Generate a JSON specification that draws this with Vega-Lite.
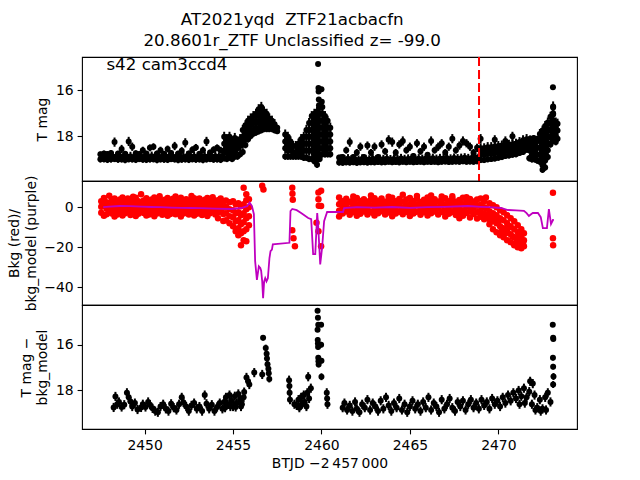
{
"$schema":"https://vega.github.io/schema/vega-lite/v6.json",
"background":"white",
"padding":{"left":6,"top":12,"right":5,"bottom":5},
"title":{"text":["AT2021yqd\u00a0 ZTF21acbacfn","20.8601r_ZTF Unclassified z= -99.0"],"font":"DejaVu Sans","fontSize":16.7,"fontWeight":"normal","color":"black","anchor":"middle","lineHeight":20.4,"offset":6},
"datasets":{
"lc":[
{"t":2447.5,"m":18.78,"e":0.12},{"t":2447.5,"m":19.0,"e":0.14},
{"t":2447.7,"m":18.74,"e":0.12},{"t":2447.7,"m":18.99,"e":0.14},
{"t":2447.9,"m":18.77,"e":0.12},{"t":2447.9,"m":19.02,"e":0.14},
{"t":2448.1,"m":18.72,"e":0.12},{"t":2448.1,"m":19.0,"e":0.14},
{"t":2448.3,"m":18.25,"e":0.2},{"t":2448.3,"m":18.98,"e":0.14},
{"t":2448.5,"m":18.75,"e":0.12},{"t":2448.5,"m":19.01,"e":0.14},
{"t":2448.7,"m":18.55,"e":0.18},{"t":2448.7,"m":19.0,"e":0.14},
{"t":2448.9,"m":18.76,"e":0.12},{"t":2448.9,"m":19.03,"e":0.14},
{"t":2449.1,"m":18.22,"e":0.2},{"t":2449.1,"m":18.99,"e":0.14},
{"t":2449.3,"m":18.45,"e":0.18},{"t":2449.3,"m":19.0,"e":0.14},
{"t":2449.5,"m":18.73,"e":0.12},{"t":2449.5,"m":19.02,"e":0.14},
{"t":2449.7,"m":18.77,"e":0.12},{"t":2449.7,"m":18.98,"e":0.14},
{"t":2449.9,"m":18.6,"e":0.15},{"t":2449.9,"m":19.01,"e":0.14},
{"t":2450.1,"m":18.75,"e":0.12},{"t":2450.1,"m":19.02,"e":0.14},
{"t":2450.3,"m":18.5,"e":0.15},{"t":2450.3,"m":19.0,"e":0.14},
{"t":2450.5,"m":18.45,"e":0.15},{"t":2450.5,"m":18.99,"e":0.14},
{"t":2450.7,"m":18.74,"e":0.12},{"t":2450.7,"m":19.03,"e":0.14},
{"t":2450.9,"m":18.6,"e":0.15},{"t":2450.9,"m":19.0,"e":0.14},
{"t":2451.1,"m":18.76,"e":0.12},{"t":2451.1,"m":19.01,"e":0.14},
{"t":2451.3,"m":18.55,"e":0.15},{"t":2451.3,"m":19.02,"e":0.14},
{"t":2451.5,"m":18.72,"e":0.12},{"t":2451.5,"m":18.98,"e":0.14},
{"t":2451.7,"m":18.42,"e":0.18},{"t":2451.7,"m":19.0,"e":0.14},
{"t":2451.9,"m":18.75,"e":0.12},{"t":2451.9,"m":19.03,"e":0.14},
{"t":2452.1,"m":18.62,"e":0.15},{"t":2452.1,"m":19.01,"e":0.14},
{"t":2452.3,"m":18.28,"e":0.2},{"t":2452.3,"m":19.0,"e":0.14},
{"t":2452.5,"m":18.74,"e":0.12},{"t":2452.5,"m":19.02,"e":0.14},
{"t":2452.7,"m":18.58,"e":0.15},{"t":2452.7,"m":18.99,"e":0.14},
{"t":2452.9,"m":18.48,"e":0.15},{"t":2452.9,"m":19.01,"e":0.14},
{"t":2453.1,"m":18.76,"e":0.12},{"t":2453.1,"m":19.0,"e":0.14},
{"t":2453.3,"m":18.6,"e":0.15},{"t":2453.3,"m":19.03,"e":0.14},
{"t":2453.5,"m":18.22,"e":0.2},{"t":2453.5,"m":19.0,"e":0.14},
{"t":2453.7,"m":18.7,"e":0.12},{"t":2453.7,"m":18.98,"e":0.14},
{"t":2453.9,"m":18.58,"e":0.15},{"t":2453.9,"m":19.01,"e":0.14},
{"t":2454.1,"m":18.5,"e":0.15},{"t":2454.1,"m":19.0,"e":0.14},
{"t":2454.3,"m":18.6,"e":0.15},{"t":2454.3,"m":19.02,"e":0.14},
{"t":2447.6,"m":18.88,"e":0.2},{"t":2447.8,"m":18.86,"e":0.2},{"t":2448.0,"m":18.9,"e":0.2},{"t":2448.2,"m":18.87,"e":0.2},{"t":2448.4,"m":18.89,"e":0.2},{"t":2448.6,"m":18.86,"e":0.2},{"t":2448.8,"m":18.9,"e":0.2},{"t":2449.0,"m":18.88,"e":0.2},{"t":2449.2,"m":18.87,"e":0.2},{"t":2449.4,"m":18.9,"e":0.2},{"t":2449.6,"m":18.86,"e":0.2},{"t":2449.8,"m":18.89,"e":0.2},{"t":2450.0,"m":18.88,"e":0.2},{"t":2450.2,"m":18.9,"e":0.2},{"t":2450.4,"m":18.86,"e":0.2},{"t":2450.6,"m":18.88,"e":0.2},{"t":2450.8,"m":18.9,"e":0.2},{"t":2451.0,"m":18.87,"e":0.2},{"t":2451.2,"m":18.89,"e":0.2},{"t":2451.4,"m":18.86,"e":0.2},{"t":2451.6,"m":18.9,"e":0.2},{"t":2451.8,"m":18.88,"e":0.2},{"t":2452.0,"m":18.87,"e":0.2},{"t":2452.2,"m":18.9,"e":0.2},{"t":2452.4,"m":18.86,"e":0.2},{"t":2452.6,"m":18.89,"e":0.2},{"t":2452.8,"m":18.88,"e":0.2},{"t":2453.0,"m":18.9,"e":0.2},{"t":2453.2,"m":18.86,"e":0.2},{"t":2453.4,"m":18.88,"e":0.2},{"t":2453.6,"m":18.87,"e":0.2},{"t":2453.8,"m":18.9,"e":0.2},{"t":2454.0,"m":18.86,"e":0.2},{"t":2454.2,"m":18.89,"e":0.2},{"t":2454.4,"m":18.85,"e":0.2},
{"t":2454.5,"m":18.02,"e":0.22},{"t":2454.5,"m":18.32,"e":0.22},{"t":2454.5,"m":18.62,"e":0.22},{"t":2454.5,"m":18.95,"e":0.14},
{"t":2454.65,"m":18.12,"e":0.22},{"t":2454.65,"m":18.42,"e":0.22},{"t":2454.65,"m":18.72,"e":0.22},{"t":2454.65,"m":18.98,"e":0.14},
{"t":2454.8,"m":18.02,"e":0.22},{"t":2454.8,"m":18.32,"e":0.22},{"t":2454.8,"m":18.62,"e":0.22},{"t":2454.8,"m":18.92,"e":0.14},
{"t":2454.95,"m":18.22,"e":0.22},{"t":2454.95,"m":18.52,"e":0.22},{"t":2454.95,"m":18.82,"e":0.22},{"t":2454.95,"m":18.98,"e":0.14},
{"t":2455.1,"m":18.07,"e":0.22},{"t":2455.1,"m":18.37,"e":0.22},{"t":2455.1,"m":18.67,"e":0.22},{"t":2455.1,"m":18.88,"e":0.14},
{"t":2455.25,"m":18.22,"e":0.22},{"t":2455.25,"m":18.52,"e":0.22},{"t":2455.25,"m":18.88,"e":0.14},
{"t":2455.4,"m":18.12,"e":0.22},{"t":2455.4,"m":18.42,"e":0.22},{"t":2455.4,"m":18.78,"e":0.14},
{"t":2455.55,"m":17.72,"e":0.22},{"t":2455.55,"m":18.02,"e":0.22},{"t":2455.55,"m":18.32,"e":0.22},{"t":2455.55,"m":18.68,"e":0.14},
{"t":2455.7,"m":17.52,"e":0.22},{"t":2455.7,"m":17.82,"e":0.22},{"t":2455.7,"m":18.12,"e":0.22},{"t":2455.7,"m":18.38,"e":0.14},
{"t":2455.85,"m":17.32,"e":0.22},{"t":2455.85,"m":17.62,"e":0.22},{"t":2455.85,"m":17.92,"e":0.22},{"t":2455.85,"m":18.13,"e":0.14},
{"t":2456.0,"m":17.22,"e":0.22},{"t":2456.0,"m":17.52,"e":0.22},{"t":2456.0,"m":17.82,"e":0.22},{"t":2456.0,"m":17.98,"e":0.14},
{"t":2456.15,"m":17.12,"e":0.22},{"t":2456.15,"m":17.42,"e":0.22},{"t":2456.15,"m":17.72,"e":0.22},{"t":2456.15,"m":17.88,"e":0.14},
{"t":2456.3,"m":17.02,"e":0.22},{"t":2456.3,"m":17.32,"e":0.22},{"t":2456.3,"m":17.62,"e":0.22},{"t":2456.3,"m":17.83,"e":0.14},
{"t":2456.45,"m":16.82,"e":0.22},{"t":2456.45,"m":17.12,"e":0.22},{"t":2456.45,"m":17.42,"e":0.22},{"t":2456.45,"m":17.78,"e":0.14},
{"t":2456.6,"m":16.72,"e":0.22},{"t":2456.6,"m":17.02,"e":0.22},{"t":2456.6,"m":17.32,"e":0.22},{"t":2456.6,"m":17.55,"e":0.22},{"t":2456.6,"m":17.73,"e":0.14},
{"t":2456.75,"m":16.92,"e":0.22},{"t":2456.75,"m":17.22,"e":0.22},{"t":2456.75,"m":17.52,"e":0.22},{"t":2456.75,"m":17.68,"e":0.14},
{"t":2456.9,"m":17.02,"e":0.22},{"t":2456.9,"m":17.32,"e":0.22},{"t":2456.9,"m":17.68,"e":0.14},
{"t":2457.05,"m":17.22,"e":0.22},{"t":2457.05,"m":17.5,"e":0.22},{"t":2457.05,"m":17.68,"e":0.14},
{"t":2457.2,"m":17.32,"e":0.22},{"t":2457.2,"m":17.68,"e":0.14},
{"t":2457.35,"m":17.47,"e":0.22},{"t":2457.35,"m":17.73,"e":0.14},
{"t":2457.5,"m":17.62,"e":0.12},{"t":2457.5,"m":17.78,"e":0.12},
{"t":2457.95,"m":17.92,"e":0.22},{"t":2457.95,"m":18.22,"e":0.22},{"t":2457.95,"m":18.52,"e":0.22},{"t":2457.95,"m":18.88,"e":0.14},
{"t":2458.1,"m":18.02,"e":0.22},{"t":2458.1,"m":18.32,"e":0.22},{"t":2458.1,"m":18.62,"e":0.22},{"t":2458.1,"m":18.88,"e":0.14},
{"t":2458.25,"m":18.22,"e":0.22},{"t":2458.25,"m":18.52,"e":0.22},{"t":2458.25,"m":18.88,"e":0.14},
{"t":2458.4,"m":18.42,"e":0.22},{"t":2458.4,"m":18.7,"e":0.22},{"t":2458.4,"m":18.88,"e":0.14},
{"t":2458.55,"m":18.42,"e":0.22},{"t":2458.55,"m":18.68,"e":0.22},{"t":2458.55,"m":18.88,"e":0.14},
{"t":2458.7,"m":18.32,"e":0.22},{"t":2458.7,"m":18.6,"e":0.22},{"t":2458.7,"m":18.88,"e":0.14},
{"t":2458.85,"m":18.12,"e":0.22},{"t":2458.85,"m":18.42,"e":0.22},{"t":2458.85,"m":18.72,"e":0.22},{"t":2458.85,"m":18.88,"e":0.14},
{"t":2459.0,"m":18.02,"e":0.22},{"t":2459.0,"m":18.32,"e":0.22},{"t":2459.0,"m":18.62,"e":0.22},{"t":2459.0,"m":18.93,"e":0.14},
{"t":2459.15,"m":17.72,"e":0.22},{"t":2459.15,"m":18.02,"e":0.22},{"t":2459.15,"m":18.32,"e":0.22},{"t":2459.15,"m":18.62,"e":0.22},{"t":2459.15,"m":18.93,"e":0.14},
{"t":2459.3,"m":17.42,"e":0.22},{"t":2459.3,"m":17.72,"e":0.22},{"t":2459.3,"m":18.02,"e":0.22},{"t":2459.3,"m":18.32,"e":0.22},{"t":2459.3,"m":18.62,"e":0.22},{"t":2459.3,"m":18.98,"e":0.14},
{"t":2459.45,"m":17.12,"e":0.22},{"t":2459.45,"m":17.42,"e":0.22},{"t":2459.45,"m":17.72,"e":0.22},{"t":2459.45,"m":18.02,"e":0.22},{"t":2459.45,"m":18.32,"e":0.22},{"t":2459.45,"m":18.62,"e":0.22},{"t":2459.45,"m":18.98,"e":0.14},
{"t":2459.6,"m":17.02,"e":0.22},{"t":2459.6,"m":17.32,"e":0.22},{"t":2459.6,"m":17.62,"e":0.22},{"t":2459.6,"m":17.92,"e":0.22},{"t":2459.6,"m":18.22,"e":0.22},{"t":2459.6,"m":18.52,"e":0.22},{"t":2459.6,"m":18.82,"e":0.22},{"t":2459.6,"m":19.08,"e":0.14},
{"t":2459.75,"m":16.92,"e":0.22},{"t":2459.75,"m":17.22,"e":0.22},{"t":2459.75,"m":17.52,"e":0.22},{"t":2459.75,"m":17.82,"e":0.22},{"t":2459.75,"m":18.12,"e":0.22},{"t":2459.75,"m":18.42,"e":0.22},{"t":2459.75,"m":18.72,"e":0.22},{"t":2459.75,"m":19.02,"e":0.22},{"t":2459.75,"m":19.23,"e":0.14},
{"t":2459.9,"m":16.72,"e":0.22},{"t":2459.9,"m":17.02,"e":0.22},{"t":2459.9,"m":17.32,"e":0.22},{"t":2459.9,"m":17.62,"e":0.22},{"t":2459.9,"m":17.92,"e":0.22},{"t":2459.9,"m":18.22,"e":0.22},{"t":2459.9,"m":18.52,"e":0.22},{"t":2459.9,"m":18.82,"e":0.22},{"t":2459.9,"m":18.98,"e":0.14},
{"t":2460.05,"m":16.72,"e":0.22},{"t":2460.05,"m":17.02,"e":0.22},{"t":2460.05,"m":17.32,"e":0.22},{"t":2460.05,"m":17.62,"e":0.22},{"t":2460.05,"m":17.92,"e":0.22},{"t":2460.05,"m":18.22,"e":0.22},{"t":2460.05,"m":18.52,"e":0.22},{"t":2460.05,"m":18.78,"e":0.14},
{"t":2460.2,"m":17.12,"e":0.22},{"t":2460.2,"m":17.42,"e":0.22},{"t":2460.2,"m":17.72,"e":0.22},{"t":2460.2,"m":18.02,"e":0.22},{"t":2460.2,"m":18.32,"e":0.22},{"t":2460.2,"m":18.62,"e":0.22},{"t":2460.2,"m":18.78,"e":0.14},
{"t":2460.35,"m":17.32,"e":0.22},{"t":2460.35,"m":17.62,"e":0.22},{"t":2460.35,"m":17.92,"e":0.22},{"t":2460.35,"m":18.22,"e":0.22},{"t":2460.35,"m":18.52,"e":0.22},{"t":2460.35,"m":18.78,"e":0.14},
{"t":2460.5,"m":17.62,"e":0.22},{"t":2460.5,"m":17.92,"e":0.22},{"t":2460.5,"m":18.22,"e":0.22},{"t":2460.5,"m":18.52,"e":0.22},{"t":2460.5,"m":18.78,"e":0.14},
{"t":2459.81,"m":14.85,"e":0.05},{"t":2459.83,"m":15.9,"e":0.07},{"t":2459.84,"m":16.05,"e":0.08},{"t":2459.85,"m":16.4,"e":0.1},{"t":2459.86,"m":16.65,"e":0.1},{"t":2460.0,"m":15.95,"e":0.1},{"t":2460.02,"m":16.5,"e":0.12},
{"t":2461.0,"m":18.92,"e":0.12},{"t":2461.0,"m":19.14,"e":0.13},
{"t":2461.2,"m":18.9,"e":0.12},{"t":2461.2,"m":19.15,"e":0.13},
{"t":2461.4,"m":18.6,"e":0.15},{"t":2461.4,"m":19.13,"e":0.13},
{"t":2461.6,"m":18.25,"e":0.2},{"t":2461.6,"m":19.14,"e":0.13},
{"t":2461.8,"m":18.9,"e":0.12},{"t":2461.8,"m":19.12,"e":0.13},
{"t":2462.0,"m":18.7,"e":0.15},{"t":2462.0,"m":19.15,"e":0.13},
{"t":2462.2,"m":18.45,"e":0.18},{"t":2462.2,"m":19.13,"e":0.13},
{"t":2462.4,"m":18.9,"e":0.12},{"t":2462.4,"m":19.12,"e":0.13},
{"t":2462.6,"m":18.4,"e":0.18},{"t":2462.6,"m":19.14,"e":0.13},
{"t":2462.8,"m":18.7,"e":0.15},{"t":2462.8,"m":19.12,"e":0.13},
{"t":2463.0,"m":18.45,"e":0.18},{"t":2463.0,"m":19.13,"e":0.13},
{"t":2463.2,"m":18.9,"e":0.12},{"t":2463.2,"m":19.11,"e":0.13},
{"t":2463.4,"m":18.35,"e":0.18},{"t":2463.4,"m":19.13,"e":0.13},
{"t":2463.6,"m":18.65,"e":0.15},{"t":2463.6,"m":19.12,"e":0.13},
{"t":2463.8,"m":18.15,"e":0.2},{"t":2463.8,"m":19.1,"e":0.13},
{"t":2464.0,"m":18.25,"e":0.2},{"t":2464.0,"m":19.12,"e":0.13},
{"t":2464.2,"m":18.7,"e":0.15},{"t":2464.2,"m":19.11,"e":0.13},
{"t":2464.4,"m":18.35,"e":0.18},{"t":2464.4,"m":19.13,"e":0.13},
{"t":2464.6,"m":18.2,"e":0.2},{"t":2464.6,"m":19.1,"e":0.13},
{"t":2464.8,"m":18.6,"e":0.15},{"t":2464.8,"m":19.12,"e":0.13},
{"t":2465.0,"m":18.45,"e":0.18},{"t":2465.0,"m":19.1,"e":0.13},
{"t":2465.2,"m":18.85,"e":0.12},{"t":2465.2,"m":19.12,"e":0.13},
{"t":2465.4,"m":18.3,"e":0.18},{"t":2465.4,"m":19.11,"e":0.13},
{"t":2465.6,"m":18.65,"e":0.15},{"t":2465.6,"m":19.1,"e":0.13},
{"t":2465.8,"m":18.45,"e":0.18},{"t":2465.8,"m":19.12,"e":0.13},
{"t":2466.0,"m":18.8,"e":0.12},{"t":2466.0,"m":19.1,"e":0.13},
{"t":2466.2,"m":18.2,"e":0.2},{"t":2466.2,"m":19.11,"e":0.13},
{"t":2466.4,"m":18.6,"e":0.15},{"t":2466.4,"m":19.1,"e":0.13},
{"t":2466.6,"m":18.45,"e":0.18},{"t":2466.6,"m":19.12,"e":0.13},
{"t":2466.8,"m":18.3,"e":0.18},{"t":2466.8,"m":19.1,"e":0.13},
{"t":2467.0,"m":18.7,"e":0.15},{"t":2467.0,"m":19.09,"e":0.13},
{"t":2467.2,"m":18.45,"e":0.18},{"t":2467.2,"m":19.11,"e":0.13},
{"t":2467.4,"m":18.1,"e":0.2},{"t":2467.4,"m":19.1,"e":0.13},
{"t":2467.6,"m":18.6,"e":0.15},{"t":2467.6,"m":19.09,"e":0.13},
{"t":2467.8,"m":18.4,"e":0.18},{"t":2467.8,"m":19.1,"e":0.13},
{"t":2468.0,"m":18.2,"e":0.2},{"t":2468.0,"m":19.08,"e":0.13},
{"t":2468.2,"m":18.3,"e":0.18},{"t":2468.2,"m":19.1,"e":0.13},
{"t":2468.4,"m":18.45,"e":0.18},{"t":2468.4,"m":19.09,"e":0.13},
{"t":2468.6,"m":18.7,"e":0.15},{"t":2468.6,"m":19.1,"e":0.13},
{"t":2468.8,"m":18.5,"e":0.18},{"t":2468.8,"m":19.08,"e":0.13},
{"t":2461.1,"m":18.98,"e":0.2},{"t":2461.3,"m":19.02,"e":0.2},{"t":2461.5,"m":18.97,"e":0.2},{"t":2461.7,"m":19.01,"e":0.2},{"t":2461.9,"m":18.99,"e":0.2},{"t":2462.1,"m":19.03,"e":0.2},{"t":2462.3,"m":18.98,"e":0.2},{"t":2462.5,"m":19.0,"e":0.2},{"t":2462.7,"m":19.02,"e":0.2},{"t":2462.9,"m":18.97,"e":0.2},{"t":2463.1,"m":19.01,"e":0.2},{"t":2463.3,"m":18.99,"e":0.2},{"t":2463.5,"m":19.0,"e":0.2},{"t":2463.7,"m":18.97,"e":0.2},{"t":2463.9,"m":19.01,"e":0.2},{"t":2464.1,"m":18.98,"e":0.2},{"t":2464.3,"m":19.0,"e":0.2},{"t":2464.5,"m":18.96,"e":0.2},{"t":2464.7,"m":19.0,"e":0.2},{"t":2464.9,"m":18.98,"e":0.2},{"t":2465.1,"m":18.96,"e":0.2},{"t":2465.3,"m":19.0,"e":0.2},{"t":2465.5,"m":18.97,"e":0.2},{"t":2465.7,"m":18.99,"e":0.2},{"t":2465.9,"m":18.96,"e":0.2},{"t":2466.1,"m":18.98,"e":0.2},{"t":2466.3,"m":18.95,"e":0.2},{"t":2466.5,"m":18.99,"e":0.2},{"t":2466.7,"m":18.96,"e":0.2},{"t":2466.9,"m":18.97,"e":0.2},{"t":2467.1,"m":18.95,"e":0.2},{"t":2467.3,"m":18.98,"e":0.2},{"t":2467.5,"m":18.94,"e":0.2},{"t":2467.7,"m":18.97,"e":0.2},{"t":2467.9,"m":18.95,"e":0.2},{"t":2468.1,"m":18.93,"e":0.2},{"t":2468.3,"m":18.96,"e":0.2},{"t":2468.5,"m":18.94,"e":0.2},{"t":2468.7,"m":18.92,"e":0.2},{"t":2468.9,"m":18.9,"e":0.2},
{"t":2469.0,"m":18.1,"e":0.2},{"t":2469.0,"m":18.52,"e":0.22},{"t":2469.0,"m":18.8,"e":0.22},{"t":2469.0,"m":19.03,"e":0.13},
{"t":2469.2,"m":18.52,"e":0.22},{"t":2469.2,"m":18.8,"e":0.22},{"t":2469.2,"m":19.03,"e":0.13},
{"t":2469.4,"m":18.47,"e":0.22},{"t":2469.4,"m":18.75,"e":0.22},{"t":2469.4,"m":19.0,"e":0.13},
{"t":2469.6,"m":18.47,"e":0.22},{"t":2469.6,"m":18.75,"e":0.22},{"t":2469.6,"m":18.98,"e":0.13},
{"t":2469.8,"m":18.15,"e":0.2},{"t":2469.8,"m":18.45,"e":0.22},{"t":2469.8,"m":18.72,"e":0.22},{"t":2469.8,"m":18.96,"e":0.13},
{"t":2470.0,"m":18.42,"e":0.22},{"t":2470.0,"m":18.7,"e":0.22},{"t":2470.0,"m":18.93,"e":0.13},
{"t":2470.2,"m":18.4,"e":0.22},{"t":2470.2,"m":18.65,"e":0.22},{"t":2470.2,"m":18.9,"e":0.13},
{"t":2470.4,"m":18.2,"e":0.2},{"t":2470.4,"m":18.4,"e":0.22},{"t":2470.4,"m":18.62,"e":0.22},{"t":2470.4,"m":18.85,"e":0.13},
{"t":2470.6,"m":18.37,"e":0.22},{"t":2470.6,"m":18.6,"e":0.22},{"t":2470.6,"m":18.83,"e":0.13},
{"t":2470.8,"m":18.0,"e":0.2},{"t":2470.8,"m":18.35,"e":0.22},{"t":2470.8,"m":18.58,"e":0.22},{"t":2470.8,"m":18.8,"e":0.13},
{"t":2471.0,"m":18.32,"e":0.22},{"t":2471.0,"m":18.55,"e":0.22},{"t":2471.0,"m":18.78,"e":0.13},
{"t":2471.2,"m":18.25,"e":0.22},{"t":2471.2,"m":18.5,"e":0.22},{"t":2471.2,"m":18.72,"e":0.13},
{"t":2471.4,"m":18.17,"e":0.22},{"t":2471.4,"m":18.42,"e":0.22},{"t":2471.4,"m":18.68,"e":0.13},
{"t":2471.6,"m":18.12,"e":0.22},{"t":2471.6,"m":18.35,"e":0.22},{"t":2471.6,"m":18.58,"e":0.13},
{"t":2471.8,"m":18.1,"e":0.14},{"t":2471.8,"m":18.3,"e":0.14},{"t":2471.8,"m":18.48,"e":0.13},
{"t":2472.0,"m":18.07,"e":0.12},{"t":2472.0,"m":18.23,"e":0.12},
{"t":2472.2,"m":18.1,"e":0.1},{"t":2472.2,"m":18.15,"e":0.1},
{"t":2469.1,"m":18.66,"e":0.25},{"t":2469.3,"m":18.64,"e":0.25},{"t":2469.5,"m":18.62,"e":0.25},{"t":2469.7,"m":18.6,"e":0.25},{"t":2469.9,"m":18.58,"e":0.25},{"t":2470.1,"m":18.56,"e":0.25},{"t":2470.3,"m":18.53,"e":0.25},{"t":2470.5,"m":18.5,"e":0.25},{"t":2470.7,"m":18.48,"e":0.25},{"t":2470.9,"m":18.45,"e":0.25},{"t":2471.1,"m":18.43,"e":0.25},{"t":2471.3,"m":18.38,"e":0.25},{"t":2471.5,"m":18.33,"e":0.22},{"t":2471.7,"m":18.28,"e":0.2},
{"t":2471.75,"m":18.6,"e":0.14},{"t":2471.75,"m":18.95,"e":0.14},
{"t":2471.9,"m":18.5,"e":0.22},{"t":2471.9,"m":18.8,"e":0.22},{"t":2471.9,"m":19.0,"e":0.14},
{"t":2472.05,"m":18.4,"e":0.22},{"t":2472.05,"m":18.7,"e":0.22},{"t":2472.05,"m":19.0,"e":0.14},
{"t":2472.2,"m":18.2,"e":0.22},{"t":2472.2,"m":18.5,"e":0.22},{"t":2472.2,"m":18.8,"e":0.22},{"t":2472.2,"m":19.05,"e":0.14},
{"t":2472.35,"m":17.9,"e":0.22},{"t":2472.35,"m":18.2,"e":0.22},{"t":2472.35,"m":18.5,"e":0.22},{"t":2472.35,"m":18.8,"e":0.22},{"t":2472.35,"m":19.1,"e":0.14},
{"t":2472.5,"m":17.75,"e":0.22},{"t":2472.5,"m":18.05,"e":0.22},{"t":2472.5,"m":18.35,"e":0.22},{"t":2472.5,"m":18.65,"e":0.22},{"t":2472.5,"m":18.95,"e":0.22},{"t":2472.5,"m":19.25,"e":0.22},{"t":2472.5,"m":19.45,"e":0.14},
{"t":2472.65,"m":17.55,"e":0.22},{"t":2472.65,"m":17.85,"e":0.22},{"t":2472.65,"m":18.15,"e":0.22},{"t":2472.65,"m":18.45,"e":0.22},{"t":2472.65,"m":18.75,"e":0.22},{"t":2472.65,"m":19.05,"e":0.22},{"t":2472.65,"m":19.35,"e":0.14},
{"t":2472.8,"m":17.4,"e":0.22},{"t":2472.8,"m":17.7,"e":0.22},{"t":2472.8,"m":18.0,"e":0.22},{"t":2472.8,"m":18.3,"e":0.22},{"t":2472.8,"m":18.6,"e":0.22},{"t":2472.8,"m":18.9,"e":0.14},
{"t":2472.95,"m":17.15,"e":0.22},{"t":2472.95,"m":17.45,"e":0.22},{"t":2472.95,"m":17.75,"e":0.22},{"t":2472.95,"m":18.05,"e":0.22},{"t":2472.95,"m":18.35,"e":0.14},
{"t":2473.1,"m":16.7,"e":0.22},{"t":2473.1,"m":17.0,"e":0.22},{"t":2473.1,"m":17.3,"e":0.22},{"t":2473.1,"m":17.6,"e":0.22},{"t":2473.1,"m":17.9,"e":0.22},{"t":2473.1,"m":18.2,"e":0.14},
{"t":2473.25,"m":17.4,"e":0.22},{"t":2473.25,"m":17.7,"e":0.22},{"t":2473.25,"m":18.0,"e":0.22},{"t":2473.25,"m":18.25,"e":0.14},
{"t":2473.35,"m":17.45,"e":0.22},{"t":2473.35,"m":17.75,"e":0.22},{"t":2473.35,"m":18.1,"e":0.14},
{"t":2473.09,"m":15.86,"e":0.05},{"t":2473.1,"m":16.75,"e":0.08},{"t":2473.1,"m":17.05,"e":0.08}
],
"bkg":[
{"t":2447.55,"b":3.0},{"t":2447.55,"b":0.2},{"t":2447.55,"b":-2.8},
{"t":2447.7,"b":4.6},{"t":2447.7,"b":-4.3},{"t":2447.7,"b":1.3},
{"t":2447.85,"b":2.5},{"t":2447.85,"b":-0.6},{"t":2447.85,"b":-3.5},
{"t":2448.0,"b":5.7},{"t":2448.0,"b":0.9},{"t":2448.0,"b":-2.2},
{"t":2448.15,"b":3.3},{"t":2448.15,"b":0.0},{"t":2448.15,"b":-3.1},
{"t":2448.3,"b":4.4},{"t":2448.3,"b":1.5},{"t":2448.3,"b":-1.8},{"t":2448.3,"b":-4.6},
{"t":2448.45,"b":2.7},{"t":2448.45,"b":-0.4},{"t":2448.45,"b":-3.7},
{"t":2448.6,"b":3.8},{"t":2448.6,"b":1.0},{"t":2448.6,"b":-2.4},
{"t":2448.75,"b":4.9},{"t":2448.75,"b":1.7},{"t":2448.75,"b":-1.4},{"t":2448.75,"b":-4.2},
{"t":2448.9,"b":3.1},{"t":2448.9,"b":0.1},{"t":2448.9,"b":-3.0},
{"t":2449.05,"b":4.3},{"t":2449.05,"b":1.1},{"t":2449.05,"b":-2.1},
{"t":2449.2,"b":2.6},{"t":2449.2,"b":-0.7},{"t":2449.2,"b":-3.9},
{"t":2449.35,"b":3.6},{"t":2449.35,"b":0.6},{"t":2449.35,"b":-2.6},{"t":2449.35,"b":5.2},
{"t":2449.5,"b":4.7},{"t":2449.5,"b":1.4},{"t":2449.5,"b":-1.6},{"t":2449.5,"b":-4.4},
{"t":2449.65,"b":3.0},{"t":2449.65,"b":-0.1},{"t":2449.65,"b":-3.3},
{"t":2449.8,"b":6.5},{"t":2449.8,"b":1.2},{"t":2449.8,"b":-2.0},
{"t":2449.95,"b":3.4},{"t":2449.95,"b":0.3},{"t":2449.95,"b":-2.9},
{"t":2450.1,"b":4.5},{"t":2450.1,"b":1.6},{"t":2450.1,"b":-1.5},{"t":2450.1,"b":-4.1},
{"t":2450.25,"b":2.8},{"t":2450.25,"b":-0.5},{"t":2450.25,"b":-3.6},
{"t":2450.4,"b":3.9},{"t":2450.4,"b":0.8},{"t":2450.4,"b":-2.3},
{"t":2450.55,"b":4.8},{"t":2450.55,"b":1.5},{"t":2450.55,"b":-1.7},{"t":2450.55,"b":-4.5},
{"t":2450.7,"b":3.2},{"t":2450.7,"b":0.0},{"t":2450.7,"b":-3.2},
{"t":2450.85,"b":4.1},{"t":2450.85,"b":1.0},{"t":2450.85,"b":-2.2},{"t":2450.85,"b":5.5},
{"t":2451.0,"b":2.6},{"t":2451.0,"b":-0.6},{"t":2451.0,"b":-3.8},
{"t":2451.15,"b":3.7},{"t":2451.15,"b":0.7},{"t":2451.15,"b":-2.5},
{"t":2451.3,"b":4.6},{"t":2451.3,"b":1.4},{"t":2451.3,"b":-1.6},{"t":2451.3,"b":-4.3},
{"t":2451.45,"b":3.0},{"t":2451.45,"b":-0.2},{"t":2451.45,"b":-3.4},
{"t":2451.6,"b":4.2},{"t":2451.6,"b":1.1},{"t":2451.6,"b":-2.0},
{"t":2451.75,"b":2.9},{"t":2451.75,"b":-0.3},{"t":2451.75,"b":-3.5},{"t":2451.75,"b":5.3},
{"t":2451.9,"b":3.8},{"t":2451.9,"b":0.9},{"t":2451.9,"b":-2.4},
{"t":2452.05,"b":4.7},{"t":2452.05,"b":1.6},{"t":2452.05,"b":-1.5},{"t":2452.05,"b":-4.6},
{"t":2452.2,"b":3.1},{"t":2452.2,"b":0.0},{"t":2452.2,"b":-3.1},
{"t":2452.35,"b":4.0},{"t":2452.35,"b":1.2},{"t":2452.35,"b":-2.1},
{"t":2452.5,"b":2.7},{"t":2452.5,"b":-0.5},{"t":2452.5,"b":-3.7},
{"t":2452.65,"b":3.6},{"t":2452.65,"b":0.6},{"t":2452.65,"b":-2.6},{"t":2452.65,"b":5.6},
{"t":2452.8,"b":4.5},{"t":2452.8,"b":1.3},{"t":2452.8,"b":-1.8},{"t":2452.8,"b":-4.2},
{"t":2452.95,"b":3.0},{"t":2452.95,"b":-0.1},{"t":2452.95,"b":-3.3},
{"t":2453.1,"b":4.3},{"t":2453.1,"b":1.0},{"t":2453.1,"b":-2.2},
{"t":2453.25,"b":2.8},{"t":2453.25,"b":-0.6},{"t":2453.25,"b":-3.9},
{"t":2453.4,"b":3.7},{"t":2453.4,"b":0.8},{"t":2453.4,"b":-2.4},
{"t":2453.55,"b":4.6},{"t":2453.55,"b":1.5},{"t":2453.55,"b":-1.6},{"t":2453.55,"b":-4.4},
{"t":2453.7,"b":3.2},{"t":2453.7,"b":0.1},{"t":2453.7,"b":-3.0},
{"t":2453.85,"b":4.1},{"t":2453.85,"b":1.1},{"t":2453.85,"b":-2.3},{"t":2453.85,"b":5.0},
{"t":2454.0,"b":2.6},{"t":2454.0,"b":-0.4},{"t":2454.0,"b":-3.6},
{"t":2454.15,"b":3.5},{"t":2454.15,"b":0.5},{"t":2454.15,"b":-2.7},{"t":2454.15,"b":-5.5},
{"t":2454.3,"b":4.4},{"t":2454.3,"b":1.3},{"t":2454.3,"b":-1.9},
{"t":2454.45,"b":2.9},{"t":2454.45,"b":-0.3},{"t":2454.45,"b":-3.4},{"t":2454.45,"b":-6.9},
{"t":2454.6,"b":3.3},{"t":2454.6,"b":0.2},{"t":2454.6,"b":-3.0},{"t":2454.6,"b":-6.5},
{"t":2454.8,"b":2.5},{"t":2454.8,"b":-1.0},{"t":2454.8,"b":-4.5},{"t":2454.8,"b":-8.0},
{"t":2455.0,"b":3.0},{"t":2455.0,"b":-1.5},{"t":2455.0,"b":-5.0},{"t":2455.0,"b":-9.5},
{"t":2455.15,"b":1.5},{"t":2455.15,"b":-3.0},{"t":2455.15,"b":-7.0},{"t":2455.15,"b":-12.0},
{"t":2455.3,"b":2.0},{"t":2455.3,"b":-2.5},{"t":2455.3,"b":-6.5},{"t":2455.3,"b":-10.5},{"t":2455.3,"b":-14.0},
{"t":2455.45,"b":0.5},{"t":2455.45,"b":-4.0},{"t":2455.45,"b":-8.5},{"t":2455.45,"b":-13.0},{"t":2455.45,"b":-19.0},
{"t":2455.6,"b":9.7},{"t":2455.6,"b":1.5},{"t":2455.6,"b":-3.0},{"t":2455.6,"b":-7.5},{"t":2455.6,"b":-12.0},{"t":2455.6,"b":-16.5},
{"t":2455.75,"b":6.5},{"t":2455.75,"b":3.5},{"t":2455.75,"b":-1.0},{"t":2455.75,"b":-5.5},{"t":2455.75,"b":-11.0},{"t":2455.75,"b":-17.0},
{"t":2455.9,"b":4.0},{"t":2455.9,"b":0.0},{"t":2455.9,"b":-4.5},{"t":2455.9,"b":-9.0},
{"t":2456.65,"b":10.7},{"t":2456.72,"b":8.9},
{"t":2458.35,"b":9.7},{"t":2458.36,"b":6.7},{"t":2458.38,"b":3.7},{"t":2458.35,"b":-11.5},{"t":2458.42,"b":-15.5},{"t":2458.5,"b":-19.5},
{"t":2459.83,"b":7.3},{"t":2459.83,"b":4.0},{"t":2459.85,"b":0.7},{"t":2459.72,"b":-7.8},{"t":2459.83,"b":-12.0},{"t":2459.98,"b":-19.5},{"t":2459.98,"b":8.2},{"t":2459.98,"b":0.6},
{"t":2461.0,"b":4.8},{"t":2461.0,"b":1.5},{"t":2461.0,"b":-1.8},{"t":2461.0,"b":-4.6},
{"t":2461.2,"b":3.0},{"t":2461.2,"b":0.0},{"t":2461.2,"b":-3.2},
{"t":2461.4,"b":4.2},{"t":2461.4,"b":1.0},{"t":2461.4,"b":-2.1},
{"t":2461.6,"b":2.6},{"t":2461.6,"b":-0.6},{"t":2461.6,"b":-3.8},
{"t":2461.8,"b":3.7},{"t":2461.8,"b":0.7},{"t":2461.8,"b":-2.5},{"t":2461.8,"b":5.4},
{"t":2462.0,"b":4.6},{"t":2462.0,"b":1.4},{"t":2462.0,"b":-1.6},{"t":2462.0,"b":-4.3},
{"t":2462.2,"b":3.1},{"t":2462.2,"b":-0.1},{"t":2462.2,"b":-3.3},
{"t":2462.4,"b":4.0},{"t":2462.4,"b":1.1},{"t":2462.4,"b":-2.2},
{"t":2462.6,"b":2.8},{"t":2462.6,"b":-0.4},{"t":2462.6,"b":-3.6},
{"t":2462.8,"b":3.8},{"t":2462.8,"b":0.8},{"t":2462.8,"b":-2.4},{"t":2462.8,"b":5.8},
{"t":2463.0,"b":4.5},{"t":2463.0,"b":1.6},{"t":2463.0,"b":-1.5},{"t":2463.0,"b":-4.1},
{"t":2463.2,"b":3.2},{"t":2463.2,"b":0.1},{"t":2463.2,"b":-3.0},
{"t":2463.4,"b":4.3},{"t":2463.4,"b":1.2},{"t":2463.4,"b":-2.0},
{"t":2463.6,"b":2.7},{"t":2463.6,"b":-0.5},{"t":2463.6,"b":-3.7},
{"t":2463.8,"b":3.6},{"t":2463.8,"b":0.6},{"t":2463.8,"b":-2.6},{"t":2463.8,"b":5.2},
{"t":2464.0,"b":4.7},{"t":2464.0,"b":1.5},{"t":2464.0,"b":-1.7},{"t":2464.0,"b":-4.5},
{"t":2464.2,"b":3.0},{"t":2464.2,"b":0.0},{"t":2464.2,"b":-3.2},
{"t":2464.4,"b":4.1},{"t":2464.4,"b":1.0},{"t":2464.4,"b":-2.3},
{"t":2464.6,"b":2.9},{"t":2464.6,"b":-0.3},{"t":2464.6,"b":-3.5},{"t":2464.6,"b":6.2},
{"t":2464.8,"b":3.9},{"t":2464.8,"b":0.9},{"t":2464.8,"b":-2.4},
{"t":2465.0,"b":4.6},{"t":2465.0,"b":1.4},{"t":2465.0,"b":-1.6},{"t":2465.0,"b":-4.4},
{"t":2465.2,"b":3.1},{"t":2465.2,"b":0.0},{"t":2465.2,"b":-3.1},
{"t":2465.4,"b":4.2},{"t":2465.4,"b":1.1},{"t":2465.4,"b":-2.1},{"t":2465.4,"b":5.6},
{"t":2465.6,"b":2.6},{"t":2465.6,"b":-0.6},{"t":2465.6,"b":-3.8},
{"t":2465.8,"b":3.7},{"t":2465.8,"b":0.7},{"t":2465.8,"b":-2.5},
{"t":2466.0,"b":4.8},{"t":2466.0,"b":1.6},{"t":2466.0,"b":-1.5},{"t":2466.0,"b":-4.2},
{"t":2466.2,"b":3.2},{"t":2466.2,"b":0.1},{"t":2466.2,"b":-3.0},{"t":2466.2,"b":5.9},
{"t":2466.4,"b":4.0},{"t":2466.4,"b":1.0},{"t":2466.4,"b":-2.2},
{"t":2466.6,"b":2.8},{"t":2466.6,"b":-0.4},{"t":2466.6,"b":-3.6},
{"t":2466.8,"b":3.8},{"t":2466.8,"b":0.8},{"t":2466.8,"b":-2.4},{"t":2466.8,"b":5.3},
{"t":2467.0,"b":4.5},{"t":2467.0,"b":1.5},{"t":2467.0,"b":-1.7},{"t":2467.0,"b":-4.6},
{"t":2467.2,"b":3.0},{"t":2467.2,"b":-0.1},{"t":2467.2,"b":-3.3},
{"t":2467.4,"b":4.3},{"t":2467.4,"b":1.2},{"t":2467.4,"b":-2.0},{"t":2467.4,"b":5.5},
{"t":2467.6,"b":2.7},{"t":2467.6,"b":-0.5},{"t":2467.6,"b":-3.9},
{"t":2467.8,"b":3.6},{"t":2467.8,"b":0.6},{"t":2467.8,"b":-2.6},{"t":2467.8,"b":-5.5},
{"t":2468.0,"b":4.7},{"t":2468.0,"b":1.4},{"t":2468.0,"b":-1.6},{"t":2468.0,"b":-4.3},
{"t":2468.2,"b":3.3},{"t":2468.2,"b":0.2},{"t":2468.2,"b":-2.9},{"t":2468.2,"b":5.0},
{"t":2468.4,"b":4.1},{"t":2468.4,"b":1.0},{"t":2468.4,"b":-2.2},{"t":2468.4,"b":-5.2},
{"t":2468.6,"b":2.9},{"t":2468.6,"b":-0.2},{"t":2468.6,"b":-3.4},
{"t":2468.8,"b":3.8},{"t":2468.8,"b":0.7},{"t":2468.8,"b":-2.5},{"t":2468.8,"b":-5.6},
{"t":2469.0,"b":4.4},{"t":2469.0,"b":1.2},{"t":2469.0,"b":-1.9},{"t":2469.0,"b":-4.8},
{"t":2469.2,"b":3.0},{"t":2469.2,"b":0.0},{"t":2469.2,"b":-3.2},{"t":2469.2,"b":-6.0},
{"t":2461.1,"b":2.2},{"t":2461.3,"b":-1.2},{"t":2461.5,"b":2.9},{"t":2461.7,"b":-2.0},{"t":2461.9,"b":1.8},{"t":2462.1,"b":-0.8},{"t":2462.3,"b":2.4},{"t":2462.5,"b":-1.6},{"t":2462.7,"b":1.2},{"t":2462.9,"b":-2.8},{"t":2463.1,"b":2.7},{"t":2463.3,"b":-1.4},{"t":2463.5,"b":1.9},{"t":2463.7,"b":-2.2},{"t":2463.9,"b":2.1},{"t":2464.1,"b":-0.9},{"t":2464.3,"b":1.6},{"t":2464.5,"b":-1.8},{"t":2464.7,"b":2.6},{"t":2464.9,"b":-1.1},{"t":2465.1,"b":2.0},{"t":2465.3,"b":-2.4},{"t":2465.5,"b":1.4},{"t":2465.7,"b":-1.3},{"t":2465.9,"b":2.3},{"t":2466.1,"b":-2.0},{"t":2466.3,"b":1.7},{"t":2466.5,"b":-1.0},{"t":2466.7,"b":2.5},{"t":2466.9,"b":-1.9},{"t":2467.1,"b":1.3},{"t":2467.3,"b":-2.6},{"t":2467.5,"b":2.2},{"t":2467.7,"b":-1.5},{"t":2467.9,"b":1.8},{"t":2468.1,"b":-2.1},{"t":2468.3,"b":2.4},{"t":2468.5,"b":-1.2},{"t":2468.7,"b":1.5},{"t":2468.9,"b":-2.3},
{"t":2469.3,"b":4.8},{"t":2469.3,"b":-0.5},{"t":2469.3,"b":-4.0},
{"t":2469.5,"b":2.0},{"t":2469.5,"b":-2.0},{"t":2469.5,"b":-6.0},{"t":2469.5,"b":-8.5},
{"t":2469.7,"b":1.0},{"t":2469.7,"b":-3.0},{"t":2469.7,"b":-7.0},{"t":2469.7,"b":-11.0},
{"t":2469.9,"b":0.0},{"t":2469.9,"b":-4.0},{"t":2469.9,"b":-8.0},{"t":2469.9,"b":-12.5},
{"t":2470.1,"b":-1.5},{"t":2470.1,"b":-5.5},{"t":2470.1,"b":-9.5},{"t":2470.1,"b":-14.0},
{"t":2470.3,"b":-2.5},{"t":2470.3,"b":-6.5},{"t":2470.3,"b":-10.5},{"t":2470.3,"b":-15.0},
{"t":2470.5,"b":-4.0},{"t":2470.5,"b":-8.0},{"t":2470.5,"b":-12.0},{"t":2470.5,"b":-16.5},
{"t":2470.7,"b":-5.5},{"t":2470.7,"b":-9.5},{"t":2470.7,"b":-13.5},{"t":2470.7,"b":-17.5},
{"t":2470.9,"b":-7.0},{"t":2470.9,"b":-11.0},{"t":2470.9,"b":-15.0},{"t":2470.9,"b":-19.0},
{"t":2471.1,"b":-9.0},{"t":2471.1,"b":-12.5},{"t":2471.1,"b":-16.0},{"t":2471.1,"b":-20.0},
{"t":2471.3,"b":-11.0},{"t":2471.3,"b":-14.5},{"t":2471.3,"b":-18.0},{"t":2471.3,"b":-20.5},
{"t":2471.45,"b":-13.0},{"t":2471.45,"b":-16.5},{"t":2471.45,"b":-19.5},
{"t":2469.6,"b":-4.2},{"t":2469.8,"b":-5.8},{"t":2470.0,"b":-7.2},{"t":2470.2,"b":-11.8},{"t":2470.4,"b":-13.2},{"t":2470.6,"b":-10.2},{"t":2470.8,"b":-14.6},{"t":2471.0,"b":-17.8},{"t":2471.2,"b":-14.2},{"t":2471.4,"b":-17.6},
{"t":2473.09,"b":7.2},{"t":2473.09,"b":-15.5},{"t":2473.1,"b":-19.0}
],
"model":[
{"t":2447.66,"v":0},{"t":2448.0,"v":0.3},{"t":2448.58,"v":0.6},{"t":2449.2,"v":0.5},{"t":2449.8,"v":0.3},{"t":2450.4,"v":0.1},{"t":2450.95,"v":0},{"t":2451.5,"v":-0.2},{"t":2452.07,"v":-0.3},{"t":2452.6,"v":-0.4},{"t":2453.2,"v":-0.5},{"t":2454.0,"v":-0.7},{"t":2454.9,"v":-0.9},{"t":2455.46,"v":-0.4},{"t":2455.8,"v":0.5},{"t":2455.94,"v":2.3},{"t":2456.07,"v":0.6},{"t":2456.18,"v":-3.5},{"t":2456.25,"v":-27},{"t":2456.35,"v":-36.3},{"t":2456.46,"v":-29.6},{"t":2456.54,"v":-30.4},{"t":2456.59,"v":-31.7},{"t":2456.65,"v":-37.1},{"t":2456.7,"v":-45.5},{"t":2456.76,"v":-37.1},{"t":2456.82,"v":-35.5},{"t":2456.89,"v":-37.1},{"t":2456.97,"v":-35.5},{"t":2457.06,"v":-25.4},{"t":2457.12,"v":-22.0},{"t":2457.2,"v":-21.2},{"t":2457.25,"v":-18.6},{"t":2458.19,"v":-17.8},{"t":2458.25,"v":-1.9},{"t":2458.35,"v":-0.9},{"t":2458.6,"v":-1.5},{"t":2458.85,"v":-2.9},{"t":2459.25,"v":-5.4},{"t":2459.42,"v":-6},{"t":2459.53,"v":-23.5},{"t":2459.65,"v":-23.5},{"t":2459.76,"v":-2.9},{"t":2459.81,"v":-8.4},{"t":2459.93,"v":-28.6},{"t":2460.04,"v":-20},{"t":2460.15,"v":-7},{"t":2460.32,"v":-2.4},{"t":2461.22,"v":-2.4},{"t":2461.28,"v":-0.4},{"t":2462.0,"v":0},{"t":2463.0,"v":-0.2},{"t":2464.0,"v":0.1},{"t":2465.0,"v":-0.3},{"t":2466.0,"v":0},{"t":2467.0,"v":0.2},{"t":2468.28,"v":0.6},{"t":2469.0,"v":0.2},{"t":2469.5,"v":0},{"t":2470.15,"v":-0.4},{"t":2470.54,"v":-1.4},{"t":2471.0,"v":-1.6},{"t":2471.45,"v":-1.8},{"t":2471.6,"v":-3.0},{"t":2471.73,"v":-4.4},{"t":2471.85,"v":-3.5},{"t":2471.95,"v":-2.9},{"t":2472.24,"v":-2.9},{"t":2472.4,"v":-5},{"t":2472.52,"v":-10.5},{"t":2472.75,"v":-10.5},{"t":2472.86,"v":-1},{"t":2472.98,"v":-8.4},{"t":2473.09,"v":-6.4},{"t":2473.14,"v":-6.4}
],
"diff":[
{"t":2448.25,"m":18.74,"e":0.2},{"t":2448.35,"m":18.26,"e":0.2},{"t":2448.45,"m":18.6,"e":0.2},{"t":2448.55,"m":18.5,"e":0.2},{"t":2448.7,"m":18.72,"e":0.2},{"t":2448.85,"m":18.62,"e":0.2},{"t":2449.0,"m":18.1,"e":0.2},{"t":2449.1,"m":18.3,"e":0.2},{"t":2449.2,"m":18.48,"e":0.2},{"t":2449.3,"m":18.7,"e":0.2},{"t":2449.45,"m":18.55,"e":0.2},{"t":2449.6,"m":18.83,"e":0.2},{"t":2449.8,"m":18.74,"e":0.2},{"t":2449.9,"m":18.6,"e":0.2},{"t":2450.05,"m":18.72,"e":0.2},{"t":2450.2,"m":18.5,"e":0.2},{"t":2450.3,"m":18.62,"e":0.2},{"t":2450.45,"m":18.78,"e":0.2},{"t":2450.6,"m":18.9,"e":0.2},{"t":2450.75,"m":18.95,"e":0.2},{"t":2450.9,"m":18.7,"e":0.2},{"t":2451.05,"m":18.6,"e":0.2},{"t":2451.2,"m":18.8,"e":0.2},{"t":2451.35,"m":18.9,"e":0.2},{"t":2451.5,"m":18.58,"e":0.2},{"t":2451.65,"m":18.75,"e":0.2},{"t":2451.8,"m":18.85,"e":0.2},{"t":2451.95,"m":18.6,"e":0.2},{"t":2452.1,"m":18.3,"e":0.2},{"t":2452.2,"m":18.52,"e":0.2},{"t":2452.35,"m":18.7,"e":0.2},{"t":2452.5,"m":18.9,"e":0.2},{"t":2452.65,"m":18.65,"e":0.2},{"t":2452.8,"m":18.55,"e":0.2},{"t":2452.95,"m":18.8,"e":0.2},{"t":2453.1,"m":18.7,"e":0.2},{"t":2453.25,"m":18.9,"e":0.2},{"t":2453.4,"m":18.2,"e":0.2},{"t":2453.5,"m":18.58,"e":0.2},{"t":2453.65,"m":18.8,"e":0.2},{"t":2453.8,"m":18.62,"e":0.2},{"t":2453.95,"m":18.9,"e":0.2},{"t":2454.1,"m":18.72,"e":0.2},{"t":2454.25,"m":18.55,"e":0.2},{"t":2454.4,"m":18.8,"e":0.2},
{"t":2454.5,"m":18.5,"e":0.2},{"t":2454.55,"m":18.75,"e":0.2},{"t":2454.6,"m":18.3,"e":0.2},{"t":2454.7,"m":18.6,"e":0.2},{"t":2454.8,"m":18.2,"e":0.2},{"t":2454.85,"m":18.7,"e":0.2},{"t":2454.9,"m":18.45,"e":0.2},{"t":2455.0,"m":18.7,"e":0.2},{"t":2455.1,"m":18.25,"e":0.2},{"t":2455.15,"m":18.72,"e":0.2},{"t":2455.2,"m":18.55,"e":0.2},{"t":2455.3,"m":18.15,"e":0.2},{"t":2455.4,"m":18.4,"e":0.2},{"t":2455.45,"m":18.7,"e":0.2},{"t":2455.5,"m":18.6,"e":0.2},{"t":2455.6,"m":18.3,"e":0.2},{"t":2455.63,"m":18.07,"e":0.2},{"t":2455.76,"m":17.43,"e":0.2},{"t":2455.85,"m":17.6,"e":0.2},{"t":2455.92,"m":17.74,"e":0.2},{"t":2456.2,"m":17.22,"e":0.2},{"t":2456.65,"m":17.3,"e":0.2},{"t":2456.7,"m":15.7,"e":0.12},{"t":2456.85,"m":16.15,"e":0.15},{"t":2456.9,"m":16.4,"e":0.15},{"t":2456.92,"m":16.6,"e":0.15},{"t":2456.95,"m":16.85,"e":0.15},{"t":2457.0,"m":17.05,"e":0.15},{"t":2457.02,"m":17.25,"e":0.15},{"t":2457.05,"m":17.5,"e":0.15},
{"t":2458.17,"m":17.55,"e":0.2},{"t":2458.19,"m":17.8,"e":0.2},{"t":2458.2,"m":18.1,"e":0.2},{"t":2458.22,"m":18.4,"e":0.2},{"t":2458.47,"m":18.6,"e":0.2},{"t":2458.6,"m":18.65,"e":0.2},{"t":2458.7,"m":18.4,"e":0.2},{"t":2458.75,"m":18.75,"e":0.2},{"t":2458.85,"m":18.3,"e":0.2},{"t":2458.9,"m":18.6,"e":0.2},{"t":2459.0,"m":18.2,"e":0.2},{"t":2459.05,"m":18.5,"e":0.2},{"t":2459.15,"m":18.7,"e":0.2},{"t":2459.2,"m":18.1,"e":0.2},{"t":2459.25,"m":17.4,"e":0.2},{"t":2459.3,"m":18.35,"e":0.2},{"t":2459.4,"m":17.9,"e":0.2},
{"t":2459.78,"m":14.52,"e":0.08},{"t":2459.8,"m":14.83,"e":0.08},{"t":2459.82,"m":15.13,"e":0.1},{"t":2459.78,"m":15.35,"e":0.1},{"t":2459.79,"m":15.8,"e":0.12},{"t":2459.8,"m":15.95,"e":0.12},{"t":2459.81,"m":16.1,"e":0.12},{"t":2459.82,"m":16.57,"e":0.12},{"t":2459.83,"m":16.72,"e":0.12},{"t":2459.84,"m":16.87,"e":0.12},{"t":2459.98,"m":15.13,"e":0.1},{"t":2459.98,"m":16.0,"e":0.12},{"t":2460.0,"m":16.7,"e":0.12},{"t":2460.0,"m":17.4,"e":0.15},{"t":2460.3,"m":18.1,"e":0.2},{"t":2460.32,"m":18.35,"e":0.2},{"t":2460.34,"m":18.6,"e":0.2},
{"t":2461.2,"m":18.75,"e":0.2},{"t":2461.3,"m":18.55,"e":0.2},{"t":2461.45,"m":18.85,"e":0.2},{"t":2461.6,"m":18.65,"e":0.2},{"t":2461.75,"m":18.9,"e":0.2},{"t":2461.9,"m":18.5,"e":0.2},{"t":2462.0,"m":18.8,"e":0.2},{"t":2462.15,"m":18.95,"e":0.2},{"t":2462.3,"m":18.6,"e":0.2},{"t":2462.45,"m":18.75,"e":0.2},{"t":2462.6,"m":18.4,"e":0.2},{"t":2462.75,"m":18.85,"e":0.2},{"t":2462.9,"m":18.55,"e":0.2},{"t":2463.05,"m":18.7,"e":0.2},{"t":2463.2,"m":18.9,"e":0.2},{"t":2463.35,"m":18.45,"e":0.2},{"t":2463.5,"m":18.8,"e":0.2},{"t":2463.65,"m":18.3,"e":0.2},{"t":2463.8,"m":18.65,"e":0.2},{"t":2463.95,"m":18.9,"e":0.2},{"t":2464.1,"m":18.55,"e":0.2},{"t":2464.25,"m":18.75,"e":0.2},{"t":2464.4,"m":18.35,"e":0.2},{"t":2464.55,"m":18.85,"e":0.2},{"t":2464.7,"m":18.6,"e":0.2},{"t":2464.85,"m":18.95,"e":0.2},{"t":2465.0,"m":18.7,"e":0.2},{"t":2465.15,"m":18.45,"e":0.2},{"t":2465.3,"m":18.8,"e":0.2},{"t":2465.45,"m":18.6,"e":0.2},{"t":2465.6,"m":18.9,"e":0.2},{"t":2465.75,"m":18.5,"e":0.2},{"t":2465.9,"m":18.75,"e":0.2},{"t":2466.05,"m":18.3,"e":0.2},{"t":2466.2,"m":18.85,"e":0.2},{"t":2466.35,"m":18.55,"e":0.2},{"t":2466.5,"m":18.7,"e":0.2},{"t":2466.65,"m":18.95,"e":0.2},{"t":2466.8,"m":18.4,"e":0.2},{"t":2466.95,"m":18.8,"e":0.2},{"t":2467.1,"m":18.6,"e":0.2},{"t":2467.25,"m":18.35,"e":0.2},{"t":2467.4,"m":18.75,"e":0.2},{"t":2467.55,"m":18.9,"e":0.2},{"t":2467.7,"m":18.5,"e":0.2},{"t":2467.85,"m":18.7,"e":0.2},{"t":2468.0,"m":18.45,"e":0.2},{"t":2468.15,"m":18.85,"e":0.2},{"t":2468.3,"m":18.6,"e":0.2},{"t":2468.45,"m":18.4,"e":0.2},{"t":2468.6,"m":18.75,"e":0.2},{"t":2468.75,"m":18.55,"e":0.2},{"t":2468.9,"m":18.8,"e":0.2},{"t":2469.05,"m":18.4,"e":0.2},{"t":2469.2,"m":18.65,"e":0.2},{"t":2469.35,"m":18.5,"e":0.2},{"t":2469.5,"m":18.8,"e":0.2},{"t":2469.65,"m":18.35,"e":0.2},{"t":2469.8,"m":18.6,"e":0.2},{"t":2469.95,"m":18.45,"e":0.2},{"t":2470.1,"m":18.7,"e":0.2},{"t":2470.25,"m":18.3,"e":0.2},{"t":2470.4,"m":18.55,"e":0.2},{"t":2470.55,"m":18.2,"e":0.2},{"t":2470.7,"m":18.45,"e":0.2},{"t":2470.85,"m":18.1,"e":0.2},{"t":2471.0,"m":18.35,"e":0.2},{"t":2471.15,"m":18.0,"e":0.2},{"t":2471.2,"m":18.6,"e":0.2},{"t":2471.3,"m":18.25,"e":0.2},{"t":2471.45,"m":17.9,"e":0.2},{"t":2471.5,"m":18.55,"e":0.2},{"t":2471.6,"m":18.3,"e":0.2},{"t":2471.75,"m":18.05,"e":0.2},{"t":2471.8,"m":17.6,"e":0.2},{"t":2471.9,"m":18.6,"e":0.2},{"t":2471.95,"m":17.7,"e":0.2},{"t":2472.05,"m":18.2,"e":0.2},{"t":2472.1,"m":18.85,"e":0.2},{"t":2472.2,"m":18.75,"e":0.2},{"t":2472.35,"m":18.4,"e":0.2},{"t":2472.4,"m":18.9,"e":0.2},{"t":2472.5,"m":18.8,"e":0.2},{"t":2472.65,"m":18.3,"e":0.2},{"t":2472.7,"m":18.85,"e":0.2},{"t":2472.8,"m":18.1,"e":0.2},{"t":2472.95,"m":18.5,"e":0.2},
{"t":2473.08,"m":15.13,"e":0.1},{"t":2473.1,"m":15.7,"e":0.1},{"t":2473.11,"m":15.75,"e":0.1},{"t":2473.09,"m":16.57,"e":0.12},{"t":2473.1,"m":16.96,"e":0.12},{"t":2473.12,"m":17.39,"e":0.15},{"t":2473.1,"m":17.74,"e":0.15}
],
"vline":[{"t":2468.91}],
"label":[{"t":2447.84,"m":15.13,"label":"s42 cam3ccd4"}]
},
"vconcat":[
{"width":495,"height":124,
"layer":[
{"data":{"name":"lc"},"mark":{"type":"errorbar","color":"black","thickness":2},
"encoding":{"x":{"field":"t","type":"quantitative","scale":{"domain":[2446.46,2474.45],"nice":false,"zero":false},"axis":null},
"y":{"field":"m","type":"quantitative","scale":{"domain":[14.55,19.94],"reverse":true,"nice":false,"zero":false},"axis":{"values":[16,18],"title":"T mag"}},
"yError":{"field":"e"}}},
{"data":{"name":"lc"},"mark":{"type":"circle","color":"black","size":36,"opacity":1},
"encoding":{"x":{"field":"t","type":"quantitative"},"y":{"field":"m","type":"quantitative"}}},
{"data":{"name":"vline"},"mark":{"type":"rule","color":"red","strokeWidth":2,"strokeDash":[9,4]},
"encoding":{"x":{"field":"t","type":"quantitative"}}},
{"data":{"name":"label"},"mark":{"type":"text","align":"left","baseline":"alphabetic","font":"DejaVu Sans","fontSize":16.7,"color":"black"},
"encoding":{"x":{"field":"t","type":"quantitative"},"y":{"field":"m","type":"quantitative"},"text":{"field":"label"}}}
]},
{"width":495,"height":124,
"layer":[
{"data":{"name":"bkg"},"mark":{"type":"circle","color":"red","size":42,"opacity":1},
"encoding":{"x":{"field":"t","type":"quantitative","scale":{"domain":[2446.46,2474.45],"nice":false,"zero":false},"axis":null},
"y":{"field":"b","type":"quantitative","scale":{"domain":[-48.9,13.1],"nice":false,"zero":false},"axis":{"values":[-40,-20,0],"title":["Bkg (red)/","bkg_model (purple)"]}}}},
{"data":{"name":"model"},"mark":{"type":"line","color":"#bf00bf","strokeWidth":1.8},
"encoding":{"x":{"field":"t","type":"quantitative"},"y":{"field":"v","type":"quantitative"}}}
]},
{"width":495,"height":124,
"layer":[
{"data":{"name":"diff"},"mark":{"type":"errorbar","color":"black","thickness":2},
"encoding":{"x":{"field":"t","type":"quantitative","scale":{"domain":[2446.46,2474.45],"nice":false,"zero":false},"axis":{"values":[2450,2455,2460,2465,2470],"format":"d","title":"BTJD \u22122\u2009457\u2009000","labelPadding":5}},
"y":{"field":"m","type":"quantitative","scale":{"domain":[14.27,19.68],"reverse":true,"nice":false,"zero":false},"axis":{"values":[16,18],"title":["T mag \u2212","bkg_model"]}},
"yError":{"field":"e"}}},
{"data":{"name":"diff"},"mark":{"type":"circle","color":"black","size":36,"opacity":1},
"encoding":{"x":{"field":"t","type":"quantitative"},"y":{"field":"m","type":"quantitative"}}}
]}
],
"spacing":0,
"bounds":"flush",
"resolve":{"scale":{"x":"independent","y":"independent"}},
"config":{
"view":{"stroke":"black","strokeWidth":1.1},
"font":"DejaVu Sans",
"axis":{"labelFont":"DejaVu Sans","labelFontSize":13.9,"labelColor":"black","titleFont":"DejaVu Sans","titleFontSize":13.9,"titleFontWeight":"normal","titleColor":"black","tickColor":"black","tickSize":4.9,"tickWidth":1.1,"domain":false,"grid":false,"labelPadding":4,"titlePadding":5.6,"titleLineHeight":16.7},
"axisX":{"titlePadding":4}
}
}
